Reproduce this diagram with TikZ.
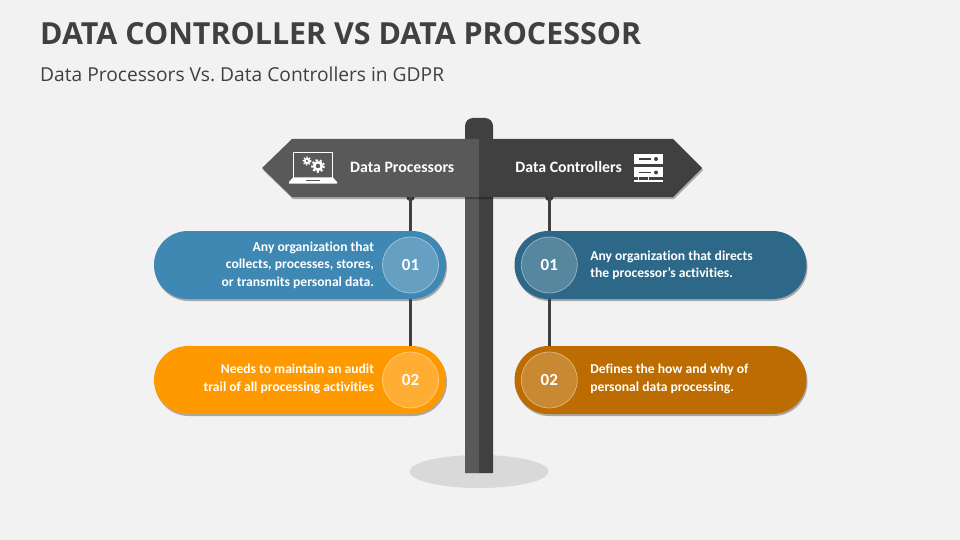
\documentclass[tikz,border=0pt]{standalone}
\usepackage{fontspec}
\setmainfont[Ligatures=NoCommon]{Carlito}
\newfontfamily\headfont{Open Sans}
\usetikzlibrary{positioning,shadows}
\definecolor{pagebg}{HTML}{F2F2F2}
\definecolor{titlegray}{HTML}{404040}
\definecolor{signlight}{HTML}{595959}
\definecolor{signdark}{HTML}{404040}
\definecolor{groundgray}{HTML}{D9D9D9}
\definecolor{procblue}{HTML}{3F88B3}
\definecolor{procorange}{HTML}{FF9900}
\definecolor{ctrlblue}{HTML}{2E6888}
\definecolor{ctrlbrown}{HTML}{BC6C00}
\tikzset{
  softshadow/.style={drop shadow={shadow xshift=1pt,shadow yshift=-2pt,opacity=.3,fill=black}},
  pill/.style={minimum width=292pt,minimum height=68pt,inner sep=0pt,rounded corners=33.9pt,softshadow},
  badge/.style={circle,minimum size=56pt,inner sep=0pt,draw=white,draw opacity=.45,line width=.7pt,
    fill=white,fill opacity=.2,text opacity=1,text=white,font=\bfseries\fontsize{17}{20}\selectfont},
  bodytext/.style={text=white,inner sep=0pt,font=\bfseries\fontsize{13.6}{17.4}\selectfont},
  signtext/.style={text=white,inner sep=0pt,font=\bfseries\fontsize{15.8}{18}\selectfont},
  pinline/.style={signdark,line width=3pt},
}
\begin{document}
\begin{tikzpicture}[x=1pt,y=-1pt]
\useasboundingbox (0,0) rectangle (960,540);
\fill[pagebg] (0,0) rectangle (960,540);

% Title
\node[anchor=west,inner sep=0pt,text=titlegray,font=\headfont\bfseries\fontsize{30.4}{36}\selectfont] (title) at (40,34) {DATA CONTROLLER VS DATA PROCESSOR};
\node[anchor=west,inner sep=0pt,text=titlegray,font=\headfont\fontsize{19.2}{24}\selectfont] (subtitle) at (40,74) {Data Processors Vs.\ Data Controllers in GDPR};

% Ground and post
\fill[groundgray] (479,471.5) ellipse (69.5 and 16.5);
\fill[signdark] (465,473) -- (465,126) arc (180:90:8 and -8) -- (485,118) arc (90:0:8 and -8) -- (493,473) -- cycle;
\fill[signlight] (465,190) rectangle (479,473);

% Pins
\coordinate (pinProc) at (410.5,197);
\coordinate (pinCtrl) at (549.3,197);
\fill[signdark] (pinProc) circle (4.2);
\fill[signdark] (pinCtrl) circle (4.2);

% Signs
\fill[signlight,softshadow] (479,139) -- (292,139) -- (262,168) -- (292,197) -- (479,197) -- cycle;
\fill[signdark,softshadow] (479,139) -- (673,139) -- (702,168) -- (673,197) -- (479,197) -- cycle;
\node[signtext,anchor=west] (labelProc) at (350,167) {Data Processors};
\node[signtext,anchor=east] (labelCtrl) at (622,167) {Data Controllers};

% Laptop icon
\draw[white,line width=1.2pt] (293.6,178) -- (293.6,152.6) -- (332.4,152.6) -- (332.4,178);
\fill[white] (293,177.5) -- (333,177.5) -- (337,182) -- (337,183.5) -- (289,183.5) -- (289,182) -- cycle;
\fill[signlight] (306,179.8) rectangle (320,181);
\fill[white,even odd rule] (318,166) circle (5.2) circle (2.4);
\draw[white,line width=1.8pt,dash pattern=on 2.1pt off 2.1pt] (318,166) circle (5.9);
\fill[white,even odd rule] (307,161) circle (3.2) circle (1.4);
\draw[white,line width=1.3pt,dash pattern=on 1.4pt off 1.4pt] (307,161) circle (3.8);

% Server icon
\fill[white] (634,154) rectangle (663,164);
\fill[white] (634,167.5) rectangle (663,177.5);
\fill[signdark] (639,158.3) rectangle (651,159.7);
\fill[signdark] (639,171.8) rectangle (651,173.2);
\fill[signdark] (656,159) circle (2);
\fill[signdark] (656,172.5) circle (2);
\fill[white] (634,180.2) rectangle (663,182);
\fill[white] (647.8,177) rectangle (649.2,182);
\fill[white] (638,177) rectangle (639.2,182);

% Left column
\node[pill,fill=procblue] (pillProcA) at (300,265) {};
\node[pill,fill=procorange] (pillProcB) at (300,380) {};
\draw[pinline] (pinProc) -- (pillProcA.north -| pinProc);
\draw[pinline] (pillProcA.south -| pinProc) -- (pillProcB.north -| pinProc);
\node[badge] (badgeProcA) at (410.5,265) {01};
\node[badge] (badgeProcB) at (410.5,380) {02};
\node[bodytext,align=right,left=8pt of badgeProcA] (textProcA) {Any organization that\\collects, processes, stores,\\or transmits personal data.};
\node[bodytext,align=right,left=8pt of badgeProcB,yshift=1pt] (textProcB) {Needs to maintain an audit\\trail of all processing activities};

% Right column
\node[pill,fill=ctrlblue] (pillCtrlA) at (660.5,265) {};
\node[pill,fill=ctrlbrown] (pillCtrlB) at (660.5,380) {};
\draw[pinline] (pinCtrl) -- (pillCtrlA.north -| pinCtrl);
\draw[pinline] (pillCtrlA.south -| pinCtrl) -- (pillCtrlB.north -| pinCtrl);
\node[badge] (badgeCtrlA) at (549.3,265) {01};
\node[badge] (badgeCtrlB) at (549.3,380) {02};
\node[bodytext,align=left,right=12.5pt of badgeCtrlA] (textCtrlA) {Any organization that directs\\the processor’s activities.};
\node[bodytext,align=left,right=12.5pt of badgeCtrlB,yshift=1pt] (textCtrlB) {Defines the how and why of\\personal data processing.};
\end{tikzpicture}
\end{document}
